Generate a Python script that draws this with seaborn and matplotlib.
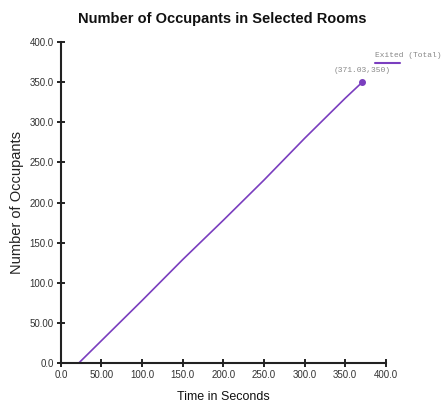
import pandas as pd
import matplotlib.pyplot as plt
import seaborn as sns
from matplotlib.lines import Line2D

# Exited (Total) curve
time_s = [22.0, 50.0, 100.0, 150.0, 200.0, 250.0, 300.0, 350.0, 371.03]
occupants = [0.0, 28.0, 78.0, 129.0, 178.0, 228.0, 280.0, 330.0, 350.0]
x_ticks = [0, 50, 100, 150, 200, 250, 300, 350, 400]
x_labels = ['0.0', '50.00', '100.0', '150.0', '200.0', '250.0', '300.0', '350.0', '400.0']
y_ticks = [0, 50, 100, 150, 200, 250, 300, 350, 400]
y_labels = ['0.0', '50.00', '100.0', '150.0', '200.0', '250.0', '300.0', '350.0', '400.0']

df = pd.DataFrame({'time': time_s, 'occupants': occupants})

sns.set_style("white")
plt.rcParams['font.family'] = ['Liberation Sans', 'DejaVu Sans']
mono = ['Liberation Mono', 'DejaVu Sans Mono']

purple = '#7a3ebf'
fig = plt.figure(figsize=(4.44, 4.08), dpi=100)
ax = fig.add_axes([0.137, 0.110, 0.732, 0.787])

sns.lineplot(data=df, x='time', y='occupants', color=purple, linewidth=1.2, ax=ax)
ax.plot([time_s[-1]], [occupants[-1]], 'o', color=purple, markersize=4)

ax.set_xlim(0, 400)
ax.set_ylim(0, 400)
ax.set_xticks(x_ticks)
ax.set_xticklabels(x_labels)
ax.set_yticks(y_ticks)
ax.set_yticklabels(y_labels)
ax.tick_params(bottom=True, left=True, direction='inout', length=6, width=1.4,
               labelsize=7, colors='#222222', labelcolor='#333333', pad=2)
for side in ['top', 'right']:
    ax.spines[side].set_visible(False)
for side in ['left', 'bottom']:
    ax.spines[side].set_color('#222222')
    ax.spines[side].set_linewidth(1.5)

ax.set_xlabel('Time in Seconds', fontsize=9, color='#111111')
ax.xaxis.set_label_coords(0.5, -0.088)
ax.set_ylabel('Number of Occupants', fontsize=10.5, color='#222222')
ax.yaxis.set_label_coords(-0.112, 0.5)
fig.suptitle('Number of Occupants in Selected Rooms', fontsize=10.5, fontweight='bold', color='#111111', y=0.97)

# point label
ax.annotate(f'({time_s[-1]:.2f},{occupants[-1]:.0f})', (time_s[-1], occupants[-1]),
            textcoords='offset points', xytext=(0, 6), ha='center', va='bottom',
            fontsize=5.8, color='#888888', family=mono)

# legend: label on top, line below
fig.text(0.845, 0.865, 'Exited (Total)', fontsize=5.7, color='#888888', family=mono, va='center')
fig.add_artist(Line2D([0.845, 0.901], [0.846, 0.846], transform=fig.transFigure, color=purple, linewidth=1.5))

fig.savefig('out.png', dpi=100)
